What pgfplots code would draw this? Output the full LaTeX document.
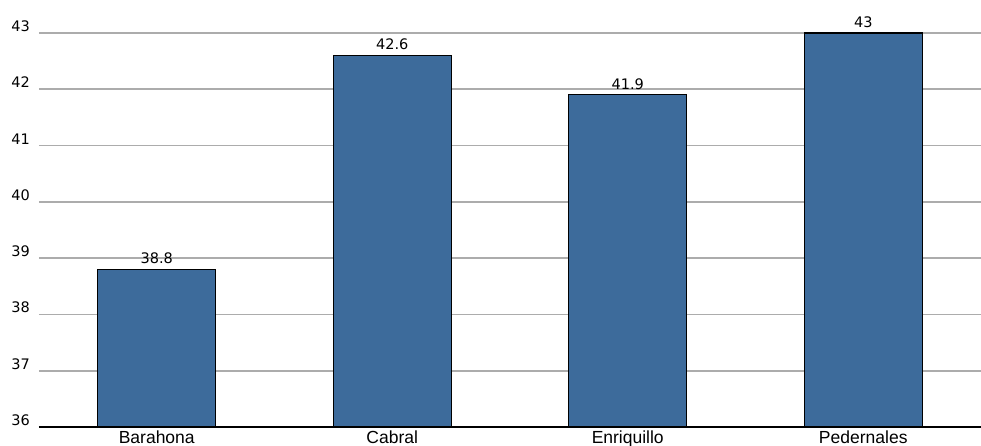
\documentclass[border=0pt]{standalone}
\usepackage{pgfplots}
\pgfplotsset{compat=1.18}
\usepackage{fontspec}
\setmainfont{Liberation Sans}
\newfontfamily\numfont{DejaVu Sans}
\definecolor{barblue}{HTML}{3D6B9B}
\definecolor{gridgray}{HTML}{ACACAC}
\begin{document}
\begin{tikzpicture}
\begin{axis}[
  scale only axis,
  width=942pt, height=394pt,
  xmin=-0.5, xmax=3.5,
  ymin=36, ymax=43,
  ytick={36,37,...,43},
  xtick={0,1,2,3},
  xticklabels={Barahona,Cabral,Enriquillo,Pedernales},
  axis y line*=left,
  axis x line*=bottom,
  y axis line style={draw=none},
  x axis line style={-, black, line width=1.2pt},
  xtick style={draw=none},
  ytick style={draw=none},
  ymajorgrids,
  grid style={gridgray, line width=1.6pt},
  xticklabel style={font=\fontsize{17.5}{20}\selectfont, anchor=north, yshift=-3.5pt, inner sep=0pt, text depth=0pt},
  yticklabel style={font=\numfont\fontsize{14.5}{17}\selectfont, anchor=base east, inner sep=0pt, xshift=-9pt, yshift=1.5pt},
  /pgf/number format/assume math mode=true,
  clip=false,
]
\addplot[ybar, bar width=0.5, fill=barblue, draw=black, line width=1.1pt,
  nodes near coords,
  every node near coord/.append style={font=\numfont\fontsize{14.5}{17}\selectfont, black, yshift=1.5pt},
  point meta=explicit symbolic]
  coordinates {(0,38.8)[38.8] (1,42.6)[42.6] (2,41.9)[41.9] (3,43)[43]};
\end{axis}
\pgfresetboundingbox
\path (-39pt,-19pt) rectangle (942pt,427pt);
\end{tikzpicture}
\end{document}
